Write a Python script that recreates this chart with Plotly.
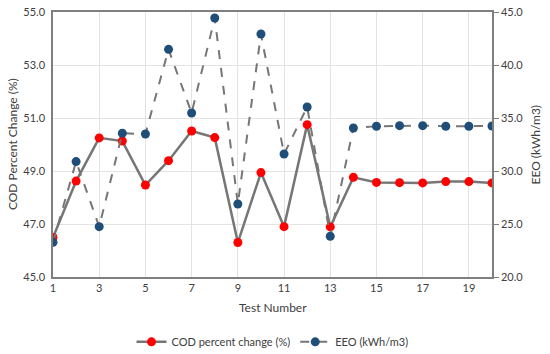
import plotly.graph_objects as go

test_number = list(range(1, 21))
cod_change = [46.49, 48.62, 50.25, 50.13, 48.47, 49.39, 50.51, 50.26, 46.30, 48.94,
              46.90, 50.75, 46.89, 48.76, 48.57, 48.56, 48.55, 48.60, 48.60, 48.55]
eeo = [23.27, 30.89, 24.75, 33.56, 33.49, 41.48, 35.47, 44.43, 26.89, 42.92,
       31.60, 36.04, 23.84, 34.06, 34.22, 34.28, 34.28, 34.22, 34.22, 34.25]
x_ticks = [1, 3, 5, 7, 9, 11, 13, 15, 17, 19]
left_ticks = [45.0, 47.0, 49.0, 51.0, 53.0, 55.0]
right_ticks = [20.0, 25.0, 30.0, 35.0, 40.0, 45.0]

FONT = "Lato"
TXT = "#404040"
GRID = "#e3e3e3"
AX = "#7f7f7f"

fig = go.Figure()
fig.add_trace(go.Scatter(
    x=test_number, y=cod_change, name="COD percent change (%)",
    mode="lines+markers",
    line=dict(color="#767676", width=2.5),
    marker=dict(color="#ff0000", size=9),
))
fig.add_trace(go.Scatter(
    x=test_number, y=eeo, name="EEO (kWh/m3)", yaxis="y2",
    mode="lines+markers",
    line=dict(color="#767676", width=2, dash="dash"),
    marker=dict(color="#1f4e79", size=9),
))

fig.update_layout(
    width=550, height=354,
    margin=dict(l=53, r=58, t=12, b=77, autoexpand=False),
    paper_bgcolor="white", plot_bgcolor="white",
    font=dict(family=FONT, size=11, color=TXT),
    showlegend=True,
    legend=dict(orientation="h", x=0.5, xanchor="center", y=-0.19, yanchor="top",
                font=dict(size=11, color=TXT)),
    xaxis=dict(
        range=[1, 20], tickvals=x_ticks, showgrid=True, gridcolor=GRID,
        showline=True, linecolor=AX, linewidth=1.5, mirror=True,
        ticks="", zeroline=False,
    ),
    yaxis=dict(
        range=[45, 55], tickvals=left_ticks, tickformat=".1f",
        showgrid=True, gridcolor=GRID, zeroline=False,
        showline=True, linecolor=AX, linewidth=1.5,
        ticks="", ticklabelstandoff=4,
    ),
    yaxis2=dict(
        range=[20, 45], tickvals=right_ticks, tickformat=".1f",
        overlaying="y", side="right", showgrid=False, zeroline=False,
        showline=True, linecolor=AX, linewidth=1.5,
        ticks="outside", ticklen=5, tickcolor=AX,
    ),
    annotations=[
        dict(text="Test Number", xref="paper", yref="paper", x=0.5, y=-0.115,
             xanchor="center", yanchor="middle", showarrow=False,
             font=dict(size=12, color=TXT)),
        dict(text="COD Percent Change (%)", xref="paper", yref="paper",
             x=-0.092, y=0.5, xanchor="center", yanchor="middle", textangle=-90,
             showarrow=False, font=dict(size=12, color=TXT)),
        dict(text="EEO (kWh/m3)", xref="paper", yref="paper",
             x=1.098, y=0.5, xanchor="center", yanchor="middle", textangle=-90,
             showarrow=False, font=dict(size=12, color=TXT)),
    ],
)

fig.write_html("out.html", config={"displayModeBar": False},
               post_script="document.body.style.margin='0';")
